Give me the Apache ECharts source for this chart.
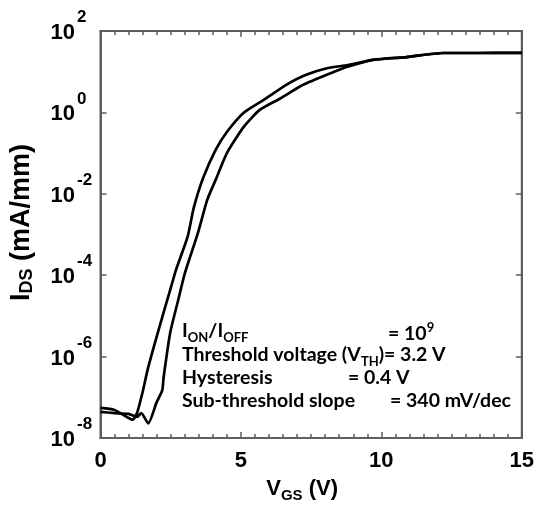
<!DOCTYPE html>
<html>
<head>
<meta charset="utf-8">
<script src="https://cdn.jsdelivr.net/npm/echarts@6/dist/echarts.min.js"></script>
<style>
  html, body { margin: 0; padding: 0; background: #ffffff; }
  #chart { width: 537px; height: 508px; }
</style>
</head>
<body>
<div id="chart"></div>
<script>
// Transfer curve: drain current (mA/mm) vs. gate voltage (V), forward and reverse sweep
const vgsForward = [0, 0.5, 1.0, 1.3, 1.45, 1.7, 2.0, 2.2, 2.25, 2.48, 2.77, 3.0, 3.47, 3.8, 4.1, 4.5, 5.1, 5.67, 6.4, 7.2, 8.3, 8.8, 9.7, 10.9, 12.2, 13.4, 15];
const idsForward = [4.4e-8, 4.1e-8, 3.9e-8, 3.3e-8, 4.1e-8, 2.3e-8, 7.6e-8, 1.5e-7, 3.2e-7, 3.8e-6, 2.5e-5, 1.1e-4, 1.1e-3, 7.1e-3, 2.2e-2, 0.10, 0.44, 1.15, 2.2, 4.7, 9.8, 13.2, 19.5, 22.9, 28.8, 28.8, 29];

const vgsReverse = [0, 0.5, 1.0, 1.15, 1.3, 1.5, 1.7, 2.1, 2.5, 2.68, 3.1, 3.32, 3.65, 4.1, 4.5, 5.1, 5.8, 6.6, 7.3, 8.1, 8.8, 9.7, 10.9, 12.2, 13.4, 15];
const idsReverse = [5.5e-8, 4.9e-8, 3.1e-8, 2.8e-8, 4.1e-8, 1.35e-7, 5.5e-7, 5.4e-6, 4.8e-5, 1.3e-4, 8.7e-4, 4.5e-3, 2.4e-2, 0.12, 0.33, 0.98, 2.0, 4.7, 8.3, 12.3, 14.5, 19.5, 22.9, 28.8, 28.8, 29];

// Axis ranges: gate voltage, and current decades (10^-8 … 10^2 mA/mm)
const vgsMin = 0, vgsMax = 15, vgsStep = 5;
const decadeMin = -8, decadeMax = 2, decadeStep = 2;

// Device figures of merit
const metricNames = ['{n|I}{s|ON}{n|/I}{s|OFF}', '{n|Threshold voltage (V}{s|TH}{n|)= 3.2 V}', '{n|Hysteresis}', '{n|Sub-threshold slope}'];
const metricValues = ['{n|= 10}{p|9}', '', '{n|= 0.4 V}', '{n|= 340 mV/dec}'];

// Current is plotted on a decade (log10) scale
const toPoints = (vs, is) => vs.map((v, i) => [v, Math.log10(is[i])]);

const axisColor = '#5e5e5e';
const tickFont = 'Liberation Sans';

const textRich = {
  n: { fontFamily: 'Lato', fontWeight: 'bold', fontSize: 19.5, lineHeight: 26, fill: '#000' },
  s: { fontFamily: 'Lato', fontWeight: 'bold', fontSize: 13, lineHeight: 15, verticalAlign: 'bottom', fill: '#000' },
  p: { fontFamily: 'Lato', fontWeight: 'bold', fontSize: 13, lineHeight: 13, verticalAlign: 'top', fill: '#000' }
};

const rowY = [331, 355, 378, 401];
const valueX = [388, 0, 348, 390];
const graphics = [];
metricNames.forEach((t, i) => {
  graphics.push({ type: 'text', left: 182, top: rowY[i] - 10, z: 10, style: { text: t, rich: textRich } });
  if (metricValues[i]) {
    graphics.push({ type: 'text', left: valueX[i], top: rowY[i] - 10, z: 10, style: { text: metricValues[i], rich: textRich } });
  }
});

const chart = echarts.init(document.getElementById('chart'));

const lineSeries = (name, data) => ({
  name, type: 'line', data, showSymbol: false, smooth: 0.2,
  lineStyle: { color: '#000', width: 2.7 }, xAxisIndex: 0, yAxisIndex: 0, z: 3
});

// Frame styling shared by all four sides of the plot box
const frameLine = () => ({ show: true, onZero: false, lineStyle: { color: axisColor, width: 2 } });
const frameTick = () => ({ show: true, inside: true, length: 6, lineStyle: { color: axisColor, width: 1.5 } });
const frameMinor = () => ({ show: true, splitNumber: 10, length: 4, lineStyle: { color: axisColor, width: 1.5 } });

chart.setOption({
  animation: false,
  grid: { left: 100, right: 14, top: 31, bottom: 70, show: true, borderColor: axisColor, borderWidth: 2, backgroundColor: 'transparent' },
  xAxis: [{
    type: 'value', position: 'bottom', min: vgsMin, max: vgsMax, interval: vgsStep,
    axisLine: frameLine(), axisTick: frameTick(), minorTick: frameMinor(),
    splitLine: { show: false }, minorSplitLine: { show: false },
    axisLabel: { margin: 12, fontFamily: tickFont, fontWeight: 'bold', fontSize: 22, color: '#000' },
    name: '{v|V}{s|GS}{v| (V)}', nameLocation: 'middle', nameGap: 37,
    nameTextStyle: {
      padding: [0, 18, 0, 0],
      rich: {
        v: { fontFamily: tickFont, fontWeight: 'bold', fontSize: 22, lineHeight: 28, color: '#000' },
        s: { fontFamily: tickFont, fontWeight: 'bold', fontSize: 15, lineHeight: 15, verticalAlign: 'bottom', color: '#000' }
      }
    }
  }, {
    type: 'value', position: 'top', min: vgsMin, max: vgsMax, interval: vgsStep,
    axisLine: frameLine(), axisTick: frameTick(), minorTick: frameMinor(),
    splitLine: { show: false }, minorSplitLine: { show: false }, axisLabel: { show: false }
  }],
  yAxis: [{
    type: 'value', position: 'left', min: decadeMin, max: decadeMax, interval: decadeStep,
    axisLine: frameLine(), axisTick: frameTick(),
    splitLine: { show: false },
    axisLabel: {
      margin: 50, align: 'left',
      formatter: v => '{b|10}{e|' + v + '}',
      rich: {
        b: { fontFamily: tickFont, fontWeight: 'bold', fontSize: 22, lineHeight: 50, color: '#000', padding: [4, 0, 0, 0] },
        e: { fontFamily: tickFont, fontWeight: 'bold', fontSize: 17, lineHeight: 17, verticalAlign: 'top', color: '#000', padding: [3, 0, 0, 2] }
      }
    },
    name: '{v|I}{s|DS}{v| (mA/mm)}', nameLocation: 'middle', nameGap: 64,
    nameTextStyle: {
      padding: [0, 0, 0, 24],
      rich: {
        v: { fontFamily: tickFont, fontWeight: 'bold', fontSize: 27, lineHeight: 30, color: '#000' },
        s: { fontFamily: tickFont, fontWeight: 'bold', fontSize: 18, lineHeight: 16, verticalAlign: 'bottom', color: '#000' }
      }
    }
  }, {
    type: 'value', position: 'right', min: decadeMin, max: decadeMax, interval: decadeStep,
    axisLine: frameLine(), axisTick: frameTick(),
    splitLine: { show: false }, axisLabel: { show: false }
  }],
  series: [
    lineSeries('Forward sweep', toPoints(vgsForward, idsForward)),
    lineSeries('Reverse sweep', toPoints(vgsReverse, idsReverse))
  ],
  graphic: graphics
});
</script>
</body>
</html>
